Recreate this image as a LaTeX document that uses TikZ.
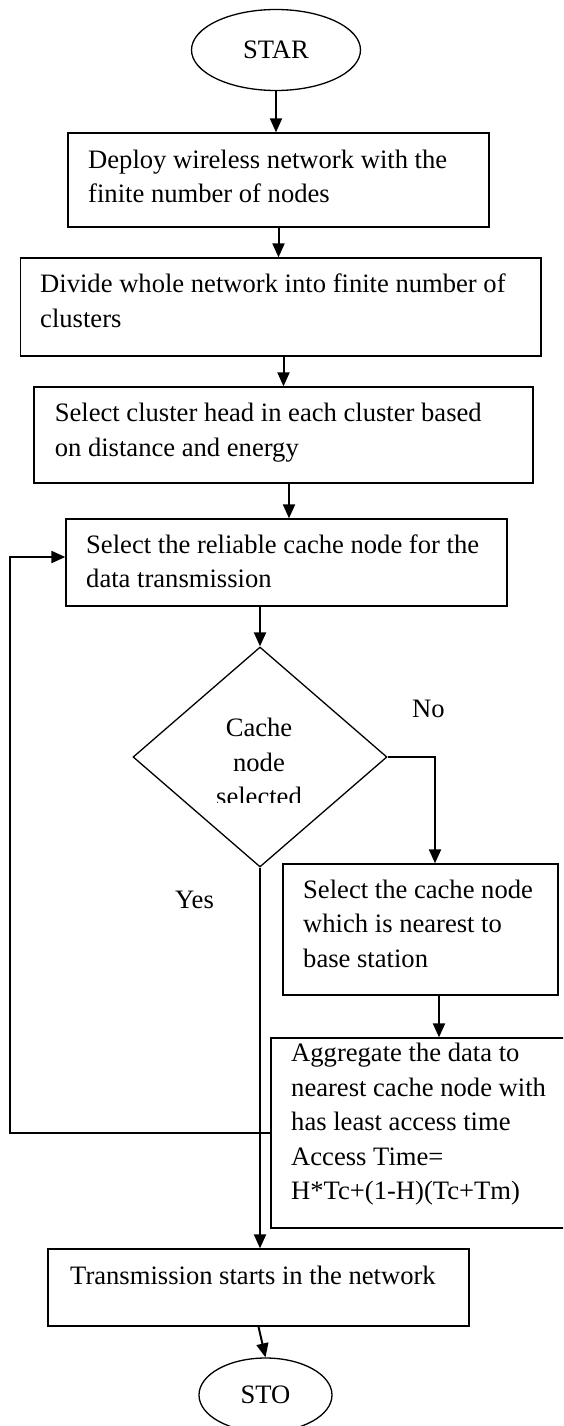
\documentclass[tikz,border=0pt]{standalone}
\usepackage{fontspec}
\setmainfont{Liberation Serif}
\usetikzlibrary{arrows.meta,shapes.geometric}
\begin{document}
\begin{tikzpicture}[x=1pt,y=-1pt,
  txt/.style={font=\fontsize{26.6}{34.5}\selectfont, inner sep=0pt},
  box/.style={draw, line width=1.3pt, inner sep=0pt},
  term/.style={ellipse, draw, line width=1.3pt, inner sep=0pt, font=\fontsize{26.6}{34.5}\selectfont},
  arr/.style={line width=2pt, -{Triangle[length=14pt,width=12pt]}}]
\useasboundingbox (0,0) rectangle (563,1426);
\clip (0,0) rectangle (563,1426);

% terminals
\node[term, minimum width=169pt, minimum height=81pt] (star) at (276,50) {STAR};
\node[term, minimum width=133pt, minimum height=74pt] (sto) at (265.5,1395) {STO};

% boxes
\node[box, minimum width=421pt, minimum height=94pt] (box1) at (278.5,180) {};
\node[box, minimum width=520.5pt, minimum height=98pt] (box2) at (280.75,307) {};
\node[box, minimum width=499pt, minimum height=96pt] (box3) at (283.5,435) {};
\node[box, minimum width=441pt, minimum height=87pt] (box4) at (286.5,562.5) {};
\node[diamond, draw, line width=1.3pt, minimum width=254pt, minimum height=220pt, inner sep=0pt] (dia) at (260,757) {};
\node[box, minimum width=275pt, minimum height=131pt] (box5) at (420.5,929.5) {};
\node[box, minimum width=329pt, minimum height=190pt] (box6) at (435.5,1133) {};
\node[box, minimum width=421pt, minimum height=77pt] (box7) at (258.5,1287.5) {};

% texts
\node[txt, align=left, anchor=north west] (t1) at (88,143.85) {\strut Deploy wireless network with the\\finite number of nodes};
\node[txt, align=left, anchor=north west] (t2) at (40,268.55) {\strut Divide whole network into finite number of\\clusters};
\node[txt, align=left, anchor=north west] (t3) at (54.6,397.55) {\strut Select cluster head in each cluster based\\on distance and energy};
\node[txt, align=left, anchor=north west] (t4) at (86,528.85) {\strut Select the reliable cache node for the\\data transmission};
\node[txt, align=left, anchor=north west] (t5) at (303,873.85) {\strut Select the cache node\\which is nearest to\\base station};
\node[txt, align=left, anchor=north west] (t6) at (291,1037.55) {\strut Aggregate the data to\\nearest cache node with\\has least access time\\Access Time=\\H*Tc+(1-H)(Tc+Tm)};
\node[txt, anchor=base west] (t7) at (70,1284) {Transmission starts in the network};
\node[txt, anchor=base west] (no) at (412,717) {No};
\node[txt, anchor=base west] (yes) at (175,908) {Yes};
\begin{scope}
  \clip (133,640) rectangle (387,802);
  \node[txt, align=center, anchor=north] (dtext) at (259,712.55) {\strut Cache\\node\\selected};
\end{scope}

% connectors
\draw[arr] (star.south) -- (star.south |- box1.north);
\draw[arr] (box1.south) -- (box1.south |- box2.north);
\draw[arr] (box3.north |- box2.south) -- (box3.north);
\draw[arr] ([xshift=2.5pt]box4.north |- box3.south) -- ([xshift=2.5pt]box4.north);
\draw[arr] (dia.north |- box4.south) -- (dia.north);
\draw[arr] (dia.east) -| ([xshift=14.5pt]box5.north);
\draw[arr] ([xshift=18.5pt]box5.south) -- ([xshift=18.5pt]box5.south |- box6.north);
\draw[arr] (dia.south) -- (dia.south |- box7.north);
\coordinate (fbl) at (9.7,800);
\coordinate (fbt) at ([yshift=5.5pt]box4.west);
\draw[arr] (box6.west) -| (fbl) |- (fbt);
\draw[arr] (box7.south) -- (sto.north);
\end{tikzpicture}
\end{document}
